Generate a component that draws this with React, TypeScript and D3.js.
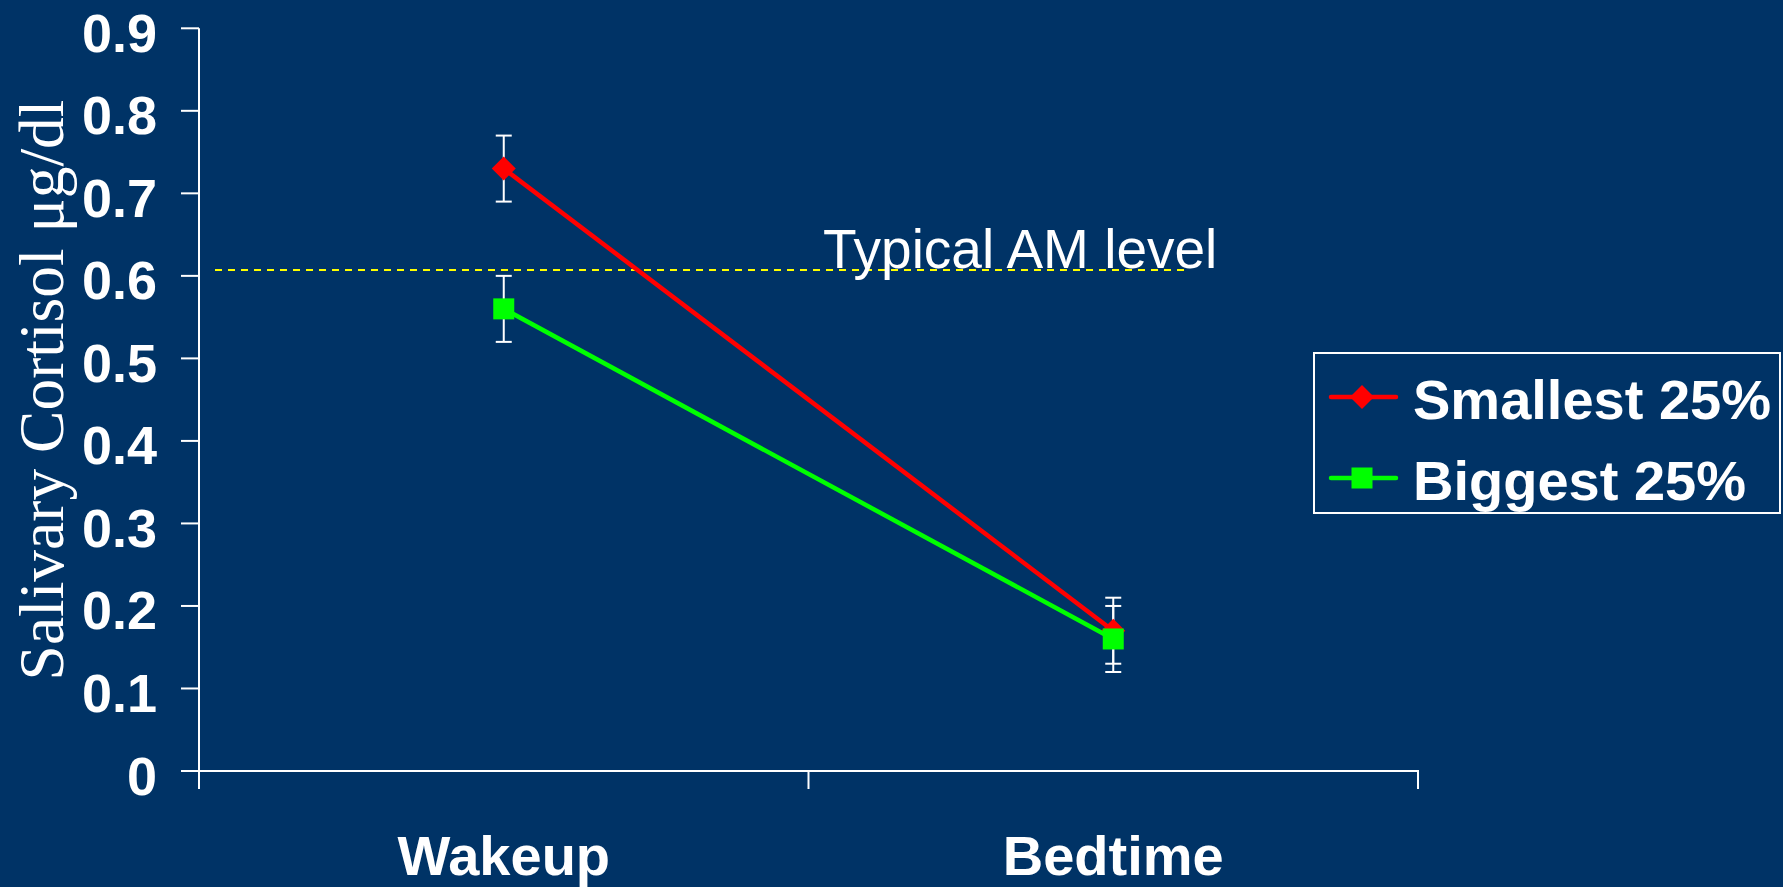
import React from "react";
import * as d3 from "d3";

const categories = ["Wakeup", "Bedtime"];
const seriesNames = ["Smallest 25%", "Biggest 25%"];
const smallestValues = [0.73, 0.17];
const smallestErrors = [0.04, 0.04];
const biggestValues = [0.56, 0.16];
const biggestErrors = [0.04, 0.04];
const yTickValues = [0, 0.1, 0.2, 0.3, 0.4, 0.5, 0.6, 0.7, 0.8, 0.9];
const typicalAMLevel = 0.607;
const typicalLabel = "Typical AM level";
const yAxisTitle = "Salivary Cortisol μg/dl";

const W = 1783;
const H = 887;
const BG = "#003366";
const SANS = "'Liberation Sans', Arial, sans-serif";
const SERIF = "'Liberation Serif', 'Times New Roman', serif";

export default function App() {
  const x = d3.scaleBand<string>().domain(categories).range([199, 1418]).padding(0);
  const y = d3.scaleLinear().domain([0, 0.9]).range([771, 28.3]);
  const cx = (c: string) => (x(c) as number) + x.bandwidth() / 2;

  const series = [
    { name: seriesNames[0], values: smallestValues, errors: smallestErrors, color: "#FF0000", marker: "diamond" },
    { name: seriesNames[1], values: biggestValues, errors: biggestErrors, color: "#00FF00", marker: "square" },
  ];

  const line = d3
    .line<number>()
    .x((_, i) => cx(categories[i]))
    .y((v) => y(v));

  const marker = (kind: string, px: number, py: number, color: string, key: string) =>
    kind === "diamond" ? (
      <path
        key={key}
        d={`M${px},${py - 12} L${px + 12},${py} L${px},${py + 12} L${px - 12},${py} Z`}
        fill={color}
      />
    ) : (
      <rect key={key} x={px - 10.5} y={py - 10.5} width={21} height={21} fill={color} />
    );

  const xBoundaries = [...categories.map((c) => x(c) as number), x.range()[1]];

  return (
    <svg
      width={W}
      height={H}
      style={{ position: "absolute", left: 0, top: 0, display: "block" }}
    >
      <rect x={0} y={0} width={W} height={H} fill={BG} />

      {/* Y axis title */}
      <text
        transform={`translate(63,390) rotate(-90)`}
        textAnchor="middle"
        fontFamily={SERIF}
        fontSize={63.5}
        fill="#fff"
      >
        {yAxisTitle}
      </text>

      {/* Y axis */}
      <line x1={199} x2={199} y1={y(0.9)} y2={789} stroke="#fff" strokeWidth={2} />
      {yTickValues.map((t) => (
        <g key={t}>
          <line x1={181} x2={199} y1={y(t)} y2={y(t)} stroke="#fff" strokeWidth={2} />
          <text
            x={157}
            y={y(t) + 23.5}
            textAnchor="end"
            fontFamily={SANS}
            fontWeight="bold"
            fontSize={54}
            fill="#fff"
          >
            {d3.format("")(t)}
          </text>
        </g>
      ))}

      {/* X axis */}
      <line x1={181} x2={1419} y1={y(0)} y2={y(0)} stroke="#fff" strokeWidth={2} />
      {xBoundaries.map((bx, i) => (
        <line key={i} x1={bx} x2={bx} y1={y(0)} y2={789} stroke="#fff" strokeWidth={2} />
      ))}
      {categories.map((c) => (
        <text
          key={c}
          x={cx(c)}
          y={875}
          textAnchor="middle"
          fontFamily={SANS}
          fontWeight="bold"
          fontSize={56}
          fill="#fff"
        >
          {c}
        </text>
      ))}

      {/* Typical AM level */}
      <line
        x1={215}
        x2={1188}
        y1={y(typicalAMLevel)}
        y2={y(typicalAMLevel)}
        stroke="#FFFF00"
        strokeWidth={2}
        strokeDasharray="7,6"
      />
      <text x={823} y={268} fontFamily={SANS} fontSize={55} fill="#fff">
        {typicalLabel}
      </text>

      {/* Error bars */}
      {series.map((s) =>
        s.values.map((v, i) => {
          const px = cx(categories[i]);
          const top = y(v + s.errors[i]);
          const bot = y(v - s.errors[i]);
          return (
            <g key={s.name + i} stroke="#fff" strokeWidth={2}>
              <line x1={px} x2={px} y1={top} y2={bot} />
              <line x1={px - 8} x2={px + 8} y1={top} y2={top} />
              <line x1={px - 8} x2={px + 8} y1={bot} y2={bot} />
            </g>
          );
        })
      )}

      {/* Series */}
      {series.map((s) => (
        <g key={s.name}>
          <path d={line(s.values) as string} fill="none" stroke={s.color} strokeWidth={4.5} />
          {s.values.map((v, i) => marker(s.marker, cx(categories[i]), y(v), s.color, s.name + i))}
        </g>
      ))}

      {/* Legend */}
      <rect x={1314} y={353} width={466} height={160} fill="none" stroke="#fff" strokeWidth={2} />
      {series.map((s, i) => {
        const ly = 397 + i * 81;
        return (
          <g key={s.name}>
            <line x1={1331} x2={1396} y1={ly} y2={ly} stroke={s.color} strokeWidth={4.5} strokeLinecap="round" />
            {marker(s.marker, 1362, ly, s.color, "lg" + i)}
            <text x={1413} y={ly + 22} fontFamily={SANS} fontWeight="bold" fontSize={56} fill="#fff">
              {s.name}
            </text>
          </g>
        );
      })}
    </svg>
  );
}
